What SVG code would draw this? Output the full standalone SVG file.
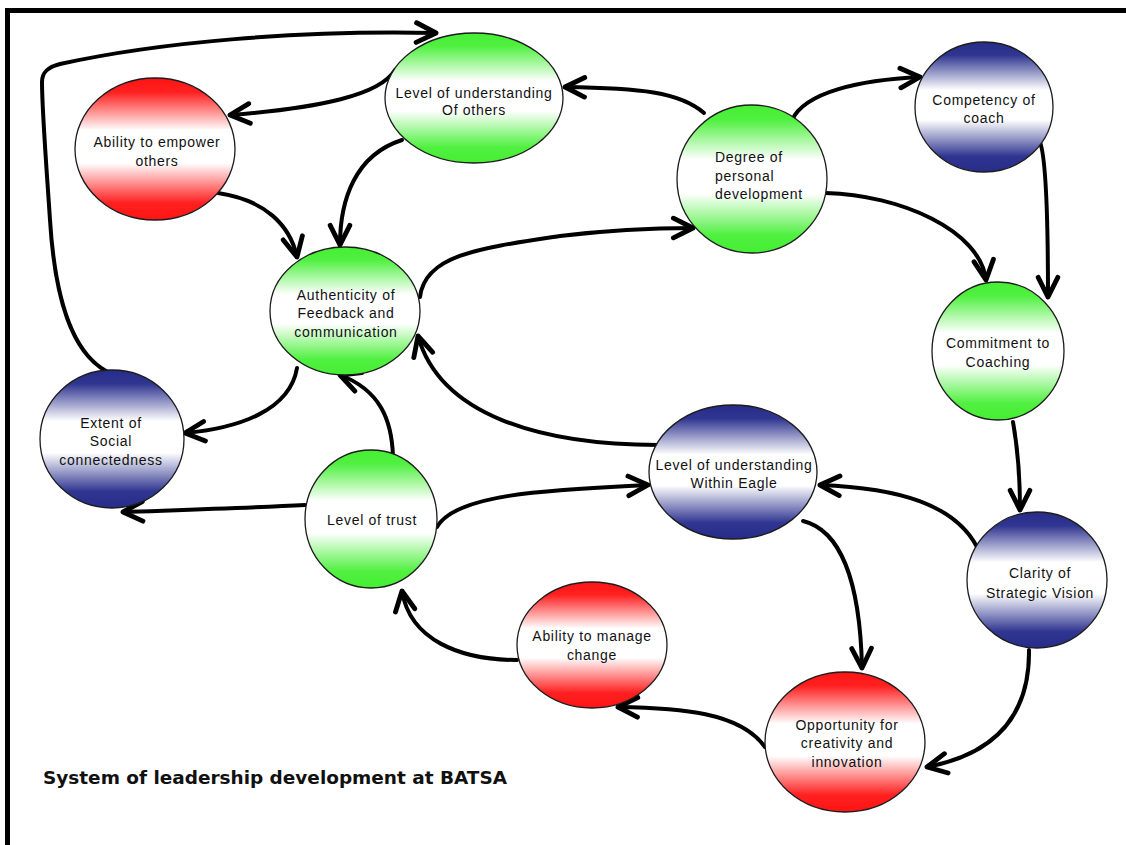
<svg xmlns="http://www.w3.org/2000/svg" width="1126" height="845" viewBox="0 0 1126 845">
<defs>
<linearGradient id="gRed" x1="0" y1="0" x2="0" y2="1">
<stop offset="0" stop-color="#ff1414"/><stop offset="0.1" stop-color="#ff2020"/><stop offset="0.37" stop-color="#ffffff"/><stop offset="0.6" stop-color="#ffffff"/><stop offset="0.88" stop-color="#ff2020"/><stop offset="1" stop-color="#ff1414"/>
</linearGradient>
<linearGradient id="gGreen" x1="0" y1="0" x2="0" y2="1">
<stop offset="0" stop-color="#46ee34"/><stop offset="0.1" stop-color="#50f040"/><stop offset="0.37" stop-color="#ffffff"/><stop offset="0.6" stop-color="#ffffff"/><stop offset="0.88" stop-color="#50f040"/><stop offset="1" stop-color="#46ee34"/>
</linearGradient>
<linearGradient id="gBlue" x1="0" y1="0" x2="0" y2="1">
<stop offset="0" stop-color="#262c88"/><stop offset="0.1" stop-color="#2f3590"/><stop offset="0.37" stop-color="#ffffff"/><stop offset="0.6" stop-color="#ffffff"/><stop offset="0.88" stop-color="#2f3590"/><stop offset="1" stop-color="#262c88"/>
</linearGradient>
<marker id="arr" markerUnits="userSpaceOnUse" markerWidth="30" markerHeight="30" viewBox="-22 -12 26 24" refX="0" refY="0" orient="auto" overflow="visible">
<path d="M-17,-8.5 L0,0 L-17,8.5" fill="none" stroke="#000" stroke-width="4.2" stroke-linejoin="round" stroke-linecap="round"/>
</marker>
</defs>
<style>
.n{stroke:#1c1c1c;stroke-width:1.3}
.r{fill:url(#gRed)}
.g{fill:url(#gGreen)}
.b{fill:url(#gBlue)}
.t{font-family:"Liberation Sans",Arial,sans-serif;font-size:14px;letter-spacing:0.7px;fill:#111;text-anchor:middle}
.tl{text-anchor:start}
.c path{fill:none;stroke:#000;stroke-width:4;stroke-linecap:round;marker-end:url(#arr)}
.title{font-family:"DejaVu Sans",Verdana,sans-serif;font-weight:bold;font-size:17px;fill:#111}
</style>
<rect x="0" y="0" width="1126" height="845" fill="#ffffff"/>
<g id="frame">
<line x1="5" y1="10.5" x2="1126" y2="10.5" stroke="#000" stroke-width="5"/>
<line x1="7.5" y1="8" x2="7.5" y2="845" stroke="#000" stroke-width="5"/>
</g>
<g id="connectors" class="c">
<path d="M106,371 C72,352 55,300 50,220 C46,160 42,110 42,82 C42,72 48,67 60,64 C160,42 300,30 436,33"/>
<path d="M395,70 C380,95 320,108 230,115"/>
<path d="M402,140 C355,155 340,200 340,245"/>
<path d="M218,193 C265,200 290,225 297,257"/>
<path d="M420,297 C425,255 480,248 560,236 C610,230 650,228 693,228"/>
<path d="M704,113 C680,92 640,88 565,87"/>
<path d="M792,120 C805,92 860,80 920,77"/>
<path d="M826,193 C900,195 980,230 986,280"/>
<path d="M1039,140 C1045,150 1048,200 1048,297"/>
<path d="M1013,422 C1018,450 1020,480 1020,510"/>
<path d="M977,547 C955,505 900,488 820,485"/>
<path d="M1029,650 C1030,720 990,755 927,767"/>
<path d="M803,521 C840,530 860,580 862,668"/>
<path d="M765,747 C740,712 680,708 618,707"/>
<path d="M517,660 C460,660 410,640 402,591"/>
<path d="M393,457 C392,420 380,390 340,375"/>
<path d="M305,505 C250,508 180,510 123,512"/>
<path d="M297,368 C290,410 240,428 185,433"/>
<path d="M437,527 C455,495 540,490 648,485"/>
<path d="M658,445 C540,445 440,415 418,336"/>
</g>
<g id="n-empower"><ellipse class="n r" cx="155" cy="149" rx="80" ry="71"/><text class="t" x="157" y="147">Ability to empower</text><text class="t" x="157" y="166">others</text></g>
<g id="n-understanding-others"><ellipse class="n g" cx="474" cy="98" rx="89" ry="65"/><text class="t" x="474" y="98">Level of understanding</text><text class="t" x="474" y="115">Of others</text></g>
<g id="n-degree"><ellipse class="n g" cx="752" cy="179" rx="75" ry="74"/><text class="t tl" x="715" y="162">Degree of</text><text class="t tl" x="715" y="181">personal</text><text class="t tl" x="715" y="199">development</text></g>
<g id="n-competency"><ellipse class="n b" cx="984" cy="107" rx="69" ry="65"/><text class="t" x="984" y="105">Competency of</text><text class="t" x="984" y="123">coach</text></g>
<g id="n-commitment"><ellipse class="n g" cx="998" cy="351" rx="66" ry="69"/><text class="t" x="998" y="348">Commitment to</text><text class="t" x="998" y="367">Coaching</text></g>
<g id="n-authenticity"><ellipse class="n g" cx="345" cy="311" rx="75" ry="64"/><text class="t" x="346" y="300">Authenticity of</text><text class="t" x="346" y="318">Feedback and</text><text class="t" x="346" y="337">communication</text></g>
<g id="n-extent"><ellipse class="n b" cx="112" cy="439" rx="72" ry="69"/><text class="t" x="111" y="428">Extent of</text><text class="t" x="111" y="446">Social</text><text class="t" x="111" y="465">connectedness</text></g>
<g id="n-trust"><ellipse class="n g" cx="371" cy="519" rx="66" ry="69"/><text class="t" x="372" y="525">Level of trust</text></g>
<g id="n-within-eagle"><ellipse class="n b" cx="733" cy="472" rx="84" ry="67"/><text class="t" x="734" y="470">Level of understanding</text><text class="t" x="734" y="488">Within Eagle</text></g>
<g id="n-clarity"><ellipse class="n b" cx="1037" cy="580" rx="70" ry="68"/><text class="t" x="1040" y="578">Clarity of</text><text class="t" x="1040" y="598">Strategic Vision</text></g>
<g id="n-manage-change"><ellipse class="n r" cx="592" cy="645" rx="75" ry="63"/><text class="t" x="592" y="641">Ability to manage</text><text class="t" x="592" y="660">change</text></g>
<g id="n-opportunity"><ellipse class="n r" cx="845" cy="742" rx="80" ry="70"/><text class="t" x="847" y="730">Opportunity for</text><text class="t" x="847" y="748">creativity and</text><text class="t" x="847" y="767">innovation</text></g>
<g id="title"><text class="title" x="43" y="784" textLength="464" lengthAdjust="spacingAndGlyphs">System of leadership development at BATSA</text></g>
</svg>
